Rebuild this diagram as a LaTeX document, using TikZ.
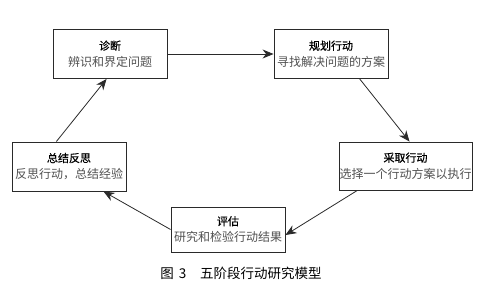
\documentclass[tikz,border=0pt]{standalone}
\usepackage{fontspec}
\setmainfont{Noto Sans CJK SC}[BoldFont=Noto Sans CJK SC,BoldFeatures={FakeBold=0.7}]
\usetikzlibrary{arrows.meta,calc}
\definecolor{linec}{HTML}{2A2A2A}
\definecolor{subc}{HTML}{505050}
\begin{document}
\begin{tikzpicture}[x=1pt,y=-1pt,
  stagebox/.style={draw=linec,line width=0.9pt,rectangle,minimum height=49pt,inner sep=0pt,align=center,text=black,font=\fontsize{11}{16.5}\selectfont},
  flow/.style={draw=linec,line width=0.8pt,-{Stealth[length=11pt,width=9pt]}}]
\useasboundingbox (0,0) rectangle (490,295);
\node[stagebox,minimum width=114pt] (b1) at (110,54) {\textbf{诊断}\\{\color{subc}\fontsize{12}{16.5}\selectfont 辨识和界定问题}};
\node[stagebox,minimum width=114pt] (b2) at (331,54) {\textbf{规划行动}\\{\color{subc}\fontsize{12}{16.5}\selectfont 寻找解决问题的方案}};
\node[stagebox,minimum width=133pt,minimum height=48pt] (b3) at (405.5,166) {\textbf{采取行动}\\{\color{subc}\fontsize{12}{16.5}\selectfont 选择一个行动方案以执行}};
\node[stagebox,minimum width=114pt] (b4) at (69,166.5) {\textbf{总结反思}\\{\color{subc}\fontsize{12}{16.5}\selectfont 反思行动，总结经验}};
\node[stagebox,minimum width=114pt,minimum height=45pt] (b5) at (228,229.5) {\textbf{评估}\\{\color{subc}\fontsize{12}{16.5}\selectfont 研究和检验行动结果}};
\node[font=\fontsize{13.5}{15}\selectfont] (cap) at (241,273) {图\hspace{5pt}3\hspace{14pt}五阶段行动研究模型};
\draw[flow] (b1.east) -- (b2.west);
\draw[flow] ($(b2.south west)!0.75!(b2.south east)$) -- ($(b3.north west)!0.53!(b3.north east)$);
\draw[flow] ($(b3.south west)!0.14!(b3.south east)$) -- ($(b5.north east)!0.62!(b5.south east)$);
\draw[flow] (b5.west) -- ($(b4.south west)!0.8!(b4.south east)$);
\draw[flow] ($(b4.north west)!0.39!(b4.north east)$) -- ($(b1.south west)!0.47!(b1.south east)$);
\end{tikzpicture}
\end{document}
